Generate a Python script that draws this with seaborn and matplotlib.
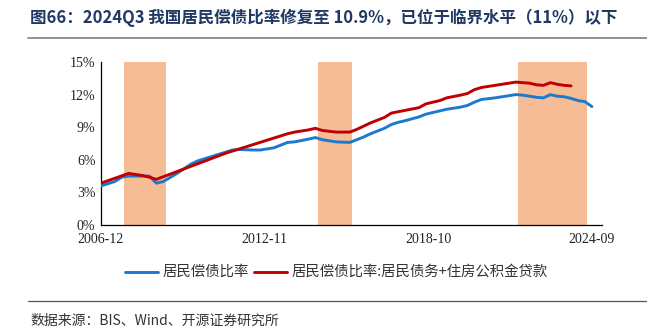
import matplotlib
matplotlib.use("Agg")
import matplotlib.pyplot as plt
from matplotlib.lines import Line2D
import seaborn as sns
import pandas as pd

sns.set_theme(style="white")
plt.rcParams["font.family"] = ["Noto Sans CJK SC", "DejaVu Sans"]

# 居民偿债比率
blue_dates = ["2006-12", "2007-06", "2007-09", "2007-12", "2008-06", "2008-09",
              "2008-12", "2009-03", "2009-09", "2010-03", "2010-06", "2010-12",
              "2011-06", "2011-09", "2011-12", "2012-06", "2012-09", "2013-03",
              "2013-09", "2013-12", "2014-06", "2014-09", "2014-12", "2015-06",
              "2015-12", "2016-03", "2016-06", "2016-09", "2017-03", "2017-06",
              "2017-09", "2017-12", "2018-06", "2018-09", "2018-12", "2019-06",
              "2019-12", "2020-03", "2020-06", "2020-09", "2021-03", "2021-06",
              "2021-09", "2021-12", "2022-03", "2022-06", "2022-09", "2022-12",
              "2023-03", "2023-06", "2023-09", "2023-12", "2024-03", "2024-06",
              "2024-09"]
blue_values = [3.6, 4.0, 4.4, 4.5, 4.5, 4.5,
               3.85, 4.0, 4.75, 5.6, 5.9, 6.3,
               6.7, 6.9, 6.95, 6.9, 6.9, 7.1,
               7.6, 7.65, 7.9, 8.05, 7.85, 7.65,
               7.6, 7.85, 8.1, 8.4, 8.9, 9.25,
               9.45, 9.6, 9.95, 10.2, 10.35, 10.65,
               10.85, 11.0, 11.3, 11.55, 11.7, 11.8,
               11.9, 12.0, 11.95, 11.85, 11.75, 11.7,
               12.0, 11.85, 11.8, 11.65, 11.45, 11.35,
               10.9]

# 居民偿债比率:居民债务+住房公积金贷款
red_dates = ["2006-12", "2007-06", "2007-12", "2008-06", "2008-09", "2008-12",
             "2011-06", "2013-09", "2013-12", "2014-06", "2014-09", "2014-12",
             "2015-06", "2015-12", "2016-03", "2016-09", "2017-03", "2017-06",
             "2017-12", "2018-06", "2018-09", "2019-03", "2019-06", "2019-12",
             "2020-03", "2020-06", "2020-09", "2021-03", "2021-06", "2021-09",
             "2021-12", "2022-03", "2022-06", "2022-09", "2022-12", "2023-03",
             "2023-06", "2023-09", "2023-12"]
red_values = [3.85, 4.3, 4.75, 4.55, 4.4, 4.2,
              6.6, 8.4, 8.55, 8.75, 8.9, 8.7,
              8.55, 8.55, 8.8, 9.4, 9.9, 10.3,
              10.55, 10.8, 11.15, 11.45, 11.7, 11.95,
              12.1, 12.45, 12.65, 12.85, 12.95, 13.05,
              13.15, 13.1, 13.05, 12.9, 12.85, 13.1,
              12.95, 12.85, 12.8]

# 阴影区间
shade_starts = ["2007-10", "2014-10", "2022-01"]
shade_ends = ["2009-04", "2016-01", "2024-07"]

tick_labels = ["2006-12", "2012-11", "2018-10", "2024-09"]
y_ticks = [0, 3, 6, 9, 12, 15]

base = pd.Period("2006-12", freq="M")


def month_index(s):
    return (pd.Period(s, freq="M") - base).n


blue_df = pd.DataFrame({"m": [month_index(d) for d in blue_dates], "v": blue_values})
red_df = pd.DataFrame({"m": [month_index(d) for d in red_dates], "v": red_values})

W, H = 647, 330
fig = plt.figure(figsize=(W / 100, H / 100), dpi=100)
ax = fig.add_axes([101 / W, 1 - 225 / H, (602 - 101) / W, (225 - 62) / H])

shade_color = "#F5BC96"
for s, e in zip(shade_starts, shade_ends):
    ax.axvspan(month_index(s), month_index(e), color=shade_color, lw=0, zorder=0)

blue = "#1B7ACD"
red = "#C00000"
sns.lineplot(data=blue_df, x="m", y="v", ax=ax, color=blue, linewidth=2.1, zorder=3)
sns.lineplot(data=red_df, x="m", y="v", ax=ax, color=red, linewidth=2.1, zorder=3)

ax.set_xlim(0, 217.4)
ax.set_ylim(0, 15)
ax.set_xlabel("")
ax.set_ylabel("")

serif = ["Liberation Serif", "DejaVu Serif"]
ax.set_yticks(y_ticks)
ax.set_yticklabels([f"{t}%" for t in y_ticks], family=serif, fontsize=10, color="#222222")
ax.set_xticks([month_index(t) for t in tick_labels])
ax.set_xticklabels(tick_labels, family=serif, fontsize=10, color="#222222")
ax.tick_params(axis="both", direction="in", length=4, width=0.8, color="black", pad=4)
ax.tick_params(axis="x", pad=6)

for side in ["top", "right"]:
    ax.spines[side].set_visible(False)
for side in ["left", "bottom"]:
    ax.spines[side].set_color("black")
    ax.spines[side].set_linewidth(0.9)

# 标题
fig.text(30 / W, 1 - 18 / H,
         "图66：2024Q3 我国居民偿债比率修复至 10.9%，已位于临界水平（11%）以下",
         fontsize=11.9, fontweight="bold", color="#1F3864", va="center", ha="left")
fig.add_artist(Line2D([28 / W, 1.0], [1 - 38 / H, 1 - 38 / H], color="#7F7F7F", lw=1.2))

# 图例
ly = 1 - 272 / H
fig.add_artist(Line2D([125 / W, 158 / W], [ly, ly], color=blue, lw=2.1))
fig.text(163 / W, ly, "居民偿债比率", fontsize=10.4, color="#333333", va="center", ha="left")
fig.add_artist(Line2D([254 / W, 287 / W], [ly, ly], color=red, lw=2.1))
fig.text(292 / W, ly, "居民偿债比率:居民债务+住房公积金贷款", fontsize=10.4,
         color="#333333", va="center", ha="left")

# 数据来源
fig.add_artist(Line2D([28 / W, 1.0], [1 - 301 / H, 1 - 301 / H], color="#555555", lw=0.9))
fig.text(30 / W, 1 - 321 / H, "数据来源：BIS、Wind、开源证券研究所", fontsize=10,
         color="#333333", va="center", ha="left")

fig.savefig("out.png", dpi=100, facecolor="white")
